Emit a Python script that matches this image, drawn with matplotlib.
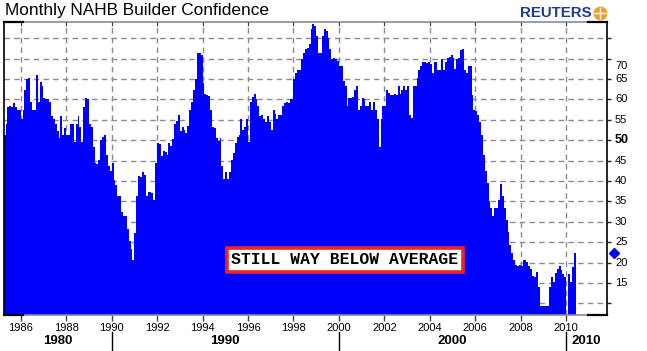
import numpy as np
import matplotlib
matplotlib.use("Agg")
import matplotlib.pyplot as plt
import matplotlib.transforms as mtransforms
from matplotlib.lines import Line2D

# ---------------- data (monthly NAHB index) ----------------
start_year = 1985
hmi_1985_1989 = [50, 50, 51, 51.4, 54.1, 58.2, 58.5, 58.2, 59.1, 58.2, 57.5, 57.3,
                 55.3, 57.5, 62.3, 65.0, 65.2, 59.5, 57.3, 57.5, 66.0, 59.5, 64.2, 63.2,
                 60.4, 60.2, 60.0, 59.3, 56.0, 55.3, 54.1, 52.2, 50.5, 56.0, 51.4, 53.0,
                 51.4, 51.4, 54.1, 54.1, 49.5, 54.1, 56.0, 53.2, 49.5, 58.2, 60.3, 60.1,
                 54.1, 53.2, 48.3, 44.4, 44.2, 45.2, 50.1, 50.8, 51.4, 46.4, 43.6, 42.4]
hmi_1990_1994 = [44.4, 40.3, 39.1, 36.4, 36.2, 32.5, 31.3, 31.3, 28.2, 25.4, 23.3, 20.5,
                 27.2, 36.4, 41.3, 41.1, 42.1, 41.5, 36.4, 37.2, 37.4, 37.0, 35.4, 44.4,
                 49.3, 49.1, 46.2, 47.3, 47.1, 46.4, 49.3, 48.7, 50.4, 54.1, 54.7, 56.2,
                 52.2, 53.2, 52.6, 51.8, 53.4, 57.3, 59.5, 62.3, 65.0, 71.4, 71.4, 71.0,
                 64.1, 61.4, 61.2, 60.9, 57.5, 53.2, 53.0, 50.5, 49.7, 50.5, 43.6, 40.5]
hmi_1995_1999 = [42.1, 40.5, 42.1, 45.2, 46.9, 49.3, 50.9, 51.4, 55.3, 52.6, 53.2, 55.3,
                 49.5, 59.5, 60.6, 61.4, 60.0, 58.5, 55.9, 56.1, 55.3, 54.4, 55.9, 54.5,
                 52.4, 57.5, 56.5, 55.3, 56.3, 56.3, 58.3, 59.1, 59.5, 59.1, 60.1, 60.2,
                 65.0, 66.5, 67.2, 67.2, 70.0, 71.4, 72.4, 72.6, 73.7, 77.2, 78.4, 78.0,
                 75.5, 71.4, 71.4, 75.5, 77.3, 76.7, 75.1, 72.4, 70.0, 70.2, 70.0, 69.4]
hmi_2000_2004 = [68.1, 68.1, 64.5, 63.4, 58.5, 60.4, 60.4, 60.6, 62.3, 63.3, 57.3, 58.5,
                 60.4, 60.0, 58.5, 58.5, 59.3, 57.5, 59.3, 57.5, 55.3, 48.3, 55.3, 58.3,
                 58.5, 62.3, 61.7, 61.2, 61.2, 61.4, 61.2, 63.3, 61.4, 62.4, 63.3, 62.4,
                 63.3, 56.3, 55.5, 63.3, 63.3, 65.3, 67.3, 68.1, 69.1, 69.1, 68.9, 69.1,
                 68.6, 66.5, 69.1, 69.1, 67.3, 67.3, 70.0, 67.3, 69.1, 70.2, 70.4, 71.0]
hmi_2005_2010 = [70.2, 67.5, 70.0, 70.2, 72.2, 72.4, 67.3, 66.6, 68.1, 68.1, 61.2, 57.5,
                 57.1, 56.3, 54.4, 51.4, 46.4, 42.4, 39.5, 35.0, 33.4, 31.3, 33.3, 33.3,
                 35.4, 39.3, 36.4, 33.3, 30.5, 27.5, 24.3, 22.3, 20.5, 19.4, 19.2, 19.4,
                 19.2, 20.5, 20.5, 20.2, 19.2, 18.4, 16.6, 16.4, 17.6, 14.1, 9.3, 9.3,
                 9.3, 9.3, 9.3, 14.1, 16.4, 15.3, 17.4, 18.4, 19.2, 18.2, 17.2, 16.4,
                 np.nan, 17.2, 15.3, 19.0, 22.3]

x_tick_years = list(range(1986, 2011, 2))
grid_levels = list(range(10, 80, 5))
y_label_levels = list(range(15, 75, 5))
decades = [1980, 1990, 2000, 2010]
latest_value = 22.3
title_text = "Monthly NAHB Builder Confidence"
note_text = "STILL WAY BELOW AVERAGE"

values = np.array(hmi_1985_1989 + hmi_1990_1994 + hmi_1995_1999 +
                  hmi_2000_2004 + hmi_2005_2010, dtype=float)
t = start_year + np.arange(len(values)) / 12.0

# ---------------- figure ----------------
W, H = 647, 351
fig = plt.figure(figsize=(W / 100, H / 100), dpi=100)
fig.patch.set_facecolor("white")
ax_l, ax_r, ax_t, ax_b = 4, 607, 22.3, 315
ax = fig.add_axes([ax_l / W, (H - ax_b) / H, (ax_r - ax_l) / W, (ax_b - ax_t) / H])
xmin, xmax = 1985.265, 2011.794
ymin, ymax = 7.125, 78.93
ax.set_xlim(xmin, xmax)
ax.set_ylim(ymin, ymax)

ax.bar(t, values, width=1 / 12, align="edge", color="#0000ff",
       linewidth=0, antialiased=False, zorder=2)

grid_col = "#8a8a9a"
ax.set_xticks(x_tick_years)
ax.set_yticks(grid_levels)
ax.grid(True, color=grid_col, linestyle=(0, (4, 3)), linewidth=1.0)
ax.set_axisbelow(True)

narrow = ["Liberation Sans Narrow", "Liberation Sans", "DejaVu Sans"]
ax.tick_params(axis="x", which="major", bottom=True, top=False, direction="out",
               length=4, width=1, color="#444444", pad=1.5, labelcolor="black")
ax.set_xticklabels([str(y) for y in x_tick_years])
for lab in ax.get_xticklabels():
    lab.set_family(narrow)
    lab.set_fontsize(8)
ax.tick_params(axis="y", which="major", left=False, right=True, labelleft=False,
               labelright=False, direction="out", length=3, width=1, color="#222222")

# top inward ticks
axt = ax.twiny()
axt.set_xlim(xmin, xmax)
axt.set_xticks(x_tick_years)
axt.tick_params(axis="x", top=True, labeltop=False, direction="in", length=3,
                color="#444444")
for s in axt.spines.values():
    s.set_visible(False)

# frame
for side in ["top", "bottom"]:
    ax.spines[side].set_color(grid_col)
    ax.spines[side].set_linewidth(1.2)
for side in ["left", "right"]:
    ax.spines[side].set_color("black")
    ax.spines[side].set_linewidth(1.2)
for yv in (ymin, ymax):
    ax.plot([xmin, 1986.1], [yv, yv], color="black", lw=1.6, clip_on=False, zorder=6)
    ax.plot([2010.95, xmax], [yv, yv], color="black", lw=1.6, clip_on=False, zorder=6)

# right-hand value labels
blend = mtransforms.blended_transform_factory(ax.transAxes, ax.transData)
xoff = 1 + 8 / (ax_r - ax_l)
for v in y_label_levels:
    tr = blend
    if v == 70:
        tr = mtransforms.offset_copy(blend, fig=fig, y=-7, units="dots")
    ax.text(xoff, v, str(v), transform=tr, ha="left", va="center",
            fontsize=9 if v == 50 else 8,
            fontweight="bold" if v == 50 else "normal",
            family=narrow, color="black", clip_on=False)

# latest-value marker
ax.plot([1 + 7 / (ax_r - ax_l)], [latest_value], transform=blend, marker="D",
        markersize=5, color="#0000ff", clip_on=False, zorder=7)

# annotation
ax.text(0.5655, 0.188, note_text, transform=ax.transAxes, ha="center", va="center",
        family=["Liberation Mono", "DejaVu Sans Mono"], fontweight="bold",
        fontsize=11.8, color="black", zorder=8,
        bbox=dict(boxstyle="square,pad=0.28", facecolor="white",
                  edgecolor="#e8262a", linewidth=2.6))

# decade row
bx = mtransforms.blended_transform_factory(ax.transData, fig.transFigure)
bounds = [xmin, 1990, 2000, 2010, xmax]
for i, d in enumerate(decades):
    cx = (bounds[i] + bounds[i + 1]) / 2
    fig.text(cx, 1 - 341.5 / H, str(d), transform=bx, ha="center", va="center",
             fontsize=9.5, fontweight="bold", family=narrow)
for d in decades[1:]:
    fig.add_artist(Line2D([d, d], [1 - 332 / H, 1 - 350 / H], transform=bx,
                          color="black", lw=1))

# title and logo
fig.text(5 / W, 1 - 11 / H, title_text, ha="left", va="center", fontsize=12.4,
         family=["Liberation Sans", "DejaVu Sans"], color="black")
fig.text(592 / W, 1 - 13 / H, "REUTERS", ha="right", va="center", fontsize=10.8,
         fontweight="bold", family=["Liberation Sans", "DejaVu Sans"],
         color="#1f3a93")
fig.add_artist(Line2D([600 / W], [1 - 13 / H], marker="o", markersize=9,
                      color="#f0a030", transform=fig.transFigure))
fig.add_artist(Line2D([600 / W], [1 - 13 / H], marker="+", markersize=8,
                      color="white", mew=1, transform=fig.transFigure))

fig.savefig("out.png", dpi=100, facecolor="white")
